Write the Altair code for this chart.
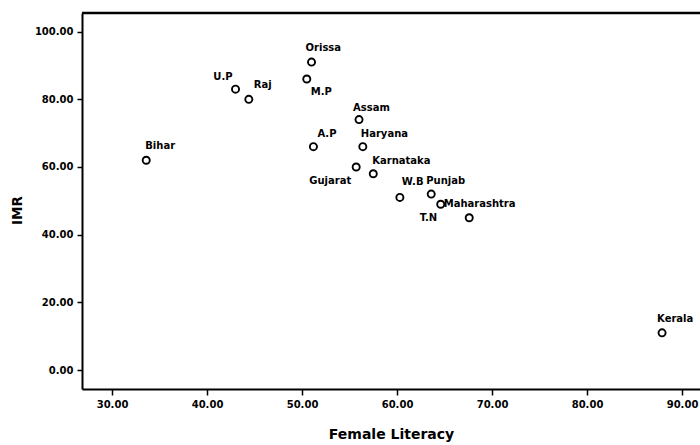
import altair as alt
import pandas as pd

# Infant mortality rate vs. female literacy, Indian states
states = ["Bihar", "U.P", "Raj", "Orissa", "M.P", "A.P", "Gujarat", "Assam",
          "Haryana", "Karnataka", "W.B", "Punjab", "Maharashtra", "T.N", "Kerala"]
female_literacy = [33.6, 43.0, 44.4, 51.0, 50.5, 51.2, 55.7, 56.0,
                   56.4, 57.5, 60.3, 63.6, 64.6, 67.6, 87.9]
imr = [62, 83, 80, 91, 86, 66, 60, 74, 66, 58, 51, 52, 49, 45, 11]

x_ticks = [30, 40, 50, 60, 70, 80, 90]
y_ticks = [0, 20, 40, 60, 80, 100]

# label placement per state: (align, dx, dy) in pixels from the point
label_place = {
    "Bihar": ("left", -1, -14), "U.P": ("right", -3, -12), "Raj": ("left", 5, -14),
    "Orissa": ("left", -6, -14), "M.P": ("left", 4, 13), "A.P": ("left", 4, -13),
    "Gujarat": ("right", -5, 14), "Assam": ("left", -6, -12), "Haryana": ("left", -2, -13),
    "Karnataka": ("left", -1, -13), "W.B": ("left", 2, -15), "Punjab": ("left", -5, -13),
    "Maharashtra": ("left", 3, 0), "T.N": ("right", -32, 0), "Kerala": ("left", -5, -14),
}

df = pd.DataFrame({"state": states, "lit": female_literacy, "imr": imr})

FONT = "DejaVu Sans"
W, H = 618, 376

x_scale = alt.Scale(domain=[26.84, 26.84 + W / 9.5], nice=False, zero=False)
y_scale = alt.Scale(domain=[-5.6, 105.5], nice=False, zero=False)

base = alt.Chart(df)

points = base.mark_point(shape="circle", filled=False, stroke="black",
                         strokeWidth=1.9, size=50, opacity=1).encode(
    x=alt.X("lit:Q", scale=x_scale, title="Female Literacy",
            axis=alt.Axis(values=x_ticks, format=".2f", grid=False,
                          domainColor="black", domainWidth=2,
                          tickColor="black", tickWidth=1.5, tickSize=6,
                          labelFont=FONT, labelFontSize=10, labelFontWeight="bold",
                          labelColor="black", labelPadding=4, labelBaseline="top",
                          titleFont=FONT, titleFontSize=14, titleFontWeight="bold",
                          titleColor="black", titleY=45, titleBaseline="middle")),
    y=alt.Y("imr:Q", scale=y_scale, title="IMR",
            axis=alt.Axis(values=y_ticks, format=".2f", grid=False,
                          domainColor="black", domainWidth=2,
                          tickColor="black", tickWidth=1.5, tickSize=5,
                          labelFont=FONT, labelFontSize=10, labelFontWeight="bold",
                          labelColor="black", labelPadding=4,
                          titleFont=FONT, titleFontSize=13.5, titleFontWeight="bold",
                          titleColor="black", titleX=-65, titleY=197,
                          titleAngle=270, titleBaseline="middle")),
)

labels = []
for name, (align, dx, dy) in label_place.items():
    labels.append(
        base.transform_filter(alt.datum.state == name)
        .mark_text(align=align, baseline="middle", dx=dx, dy=dy, font=FONT,
                   fontSize=10, fontWeight="bold", color="black")
        .encode(x=alt.X("lit:Q", scale=x_scale), y=alt.Y("imr:Q", scale=y_scale),
                text="state:N")
    )

# top frame line
top_line = alt.Chart(pd.DataFrame({"a": [0]})).mark_rule(
    color="black", strokeWidth=2.5).encode(
    x=alt.value(0), x2=alt.value(W), y=alt.value(0))

chart = alt.layer(points, top_line, *labels).properties(
    width=W, height=H,
    autosize=alt.AutoSizeParams(type="none"),
    padding={"left": 82, "top": 13, "right": 0, "bottom": 56},
    background="white",
).configure_view(stroke=None)

chart.save("out.html", embed_options={"renderer": "svg", "actions": False})
